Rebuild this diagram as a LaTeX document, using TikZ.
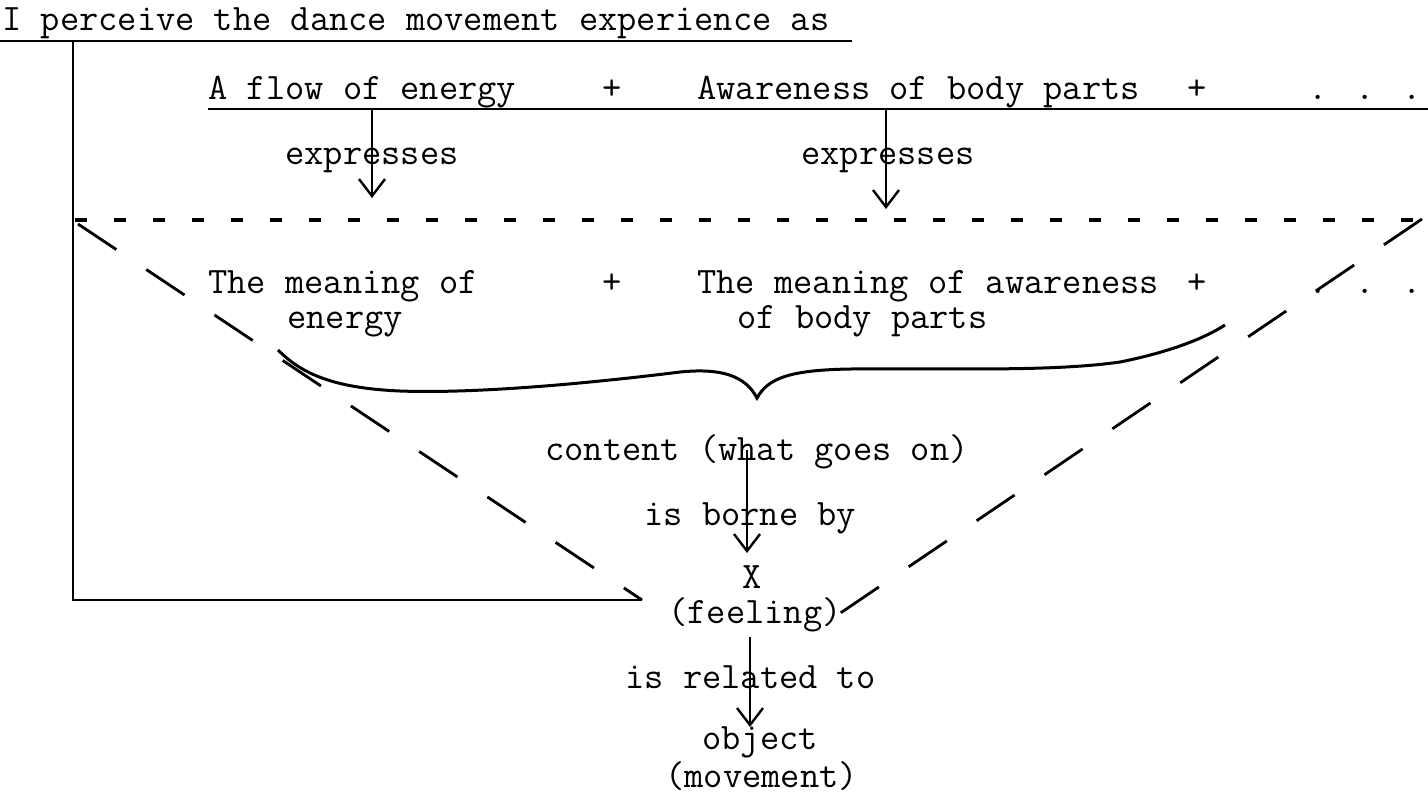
\documentclass[tikz,border=0pt]{standalone}
\usepackage{fontspec}
\usetikzlibrary{arrows.meta}
\begin{document}
\begin{tikzpicture}[x=0.5pt,y=-0.5pt,
  txt/.style={inner sep=0pt,font=\ttfamily\fontsize{18.67}{22}\selectfont,anchor=base west},
  txc/.style={inner sep=0pt,font=\ttfamily\fontsize{18.67}{22}\selectfont,anchor=base},
  rule/.style={line width=1.1pt},
  arr/.style={line width=1.1pt,-{Straight Barb[length=8.5pt,width=13pt,line width=1.2pt]}},
  dotline/.style={line width=1.8pt,dash pattern=on 6pt off 13.5pt},
  diag/.style={line width=1.4pt,dash pattern=on 23pt off 18pt},
  brace/.style={line width=1.5pt}]
\useasboundingbox (0,0) rectangle (1428,794);
% title
\node[txt] (title) at (2,30) {I perceive the dance movement experience as};
\coordinate (tl) at (0,41);
\coordinate (tr) at (852,41);
\draw[rule] (tl) -- (tr);
% frame
\coordinate (vtop) at (73,41);
\coordinate (vbot) at (73,600);
\coordinate (hend) at (642,600);
\draw[rule] (vtop) -- (vbot) -- (hend);
% row 2
\node[txt] (flow) at (208,99) {A flow of energy};
\node[txc] (p1) at (612,99) {+};
\node[txt] (aware) at (697,99) {Awareness of body parts};
\node[txc] (p2) at (1197,99) {+};
\node[txc] (d1) at (1365,99) {.\hspace{13.7pt}.\hspace{13.7pt}.};
\coordinate (ul) at (208,109);
\coordinate (ur) at (1428,109);
\draw[rule] (ul) -- (ur);
% expresses
\node[txc] (ex1) at (372,164) {expresses};
\node[txc] (ex2) at (888,164) {expresses};
\coordinate (a1s) at (372,109);
\coordinate (a1e) at (372,198);
\coordinate (a2s) at (886,109);
\coordinate (a2e) at (886,209);
\draw[arr] (a1s) -- (a1e);
\draw[arr] (a2s) -- (a2e);
% dashed horizontal
\coordinate (dl) at (75,220);
\coordinate (dr) at (1428,220);
\draw[dotline] (dl) -- (dr);
% diagonals
\coordinate (ldt) at (78,224);
\draw[diag] (ldt) -- (hend);
\coordinate (rdt) at (1422,219);
\coordinate (rdb) at (836,616);
\draw[diag] (rdt) -- (rdb);
% meaning row
\node[txt] (m1) at (208,293) {The meaning of};
\node[txt] (m1b) at (287,328) {energy};
\node[txc] (p3) at (612,293) {+};
\node[txt] (m2) at (697,293) {The meaning of awareness};
\node[txt] (m2b) at (737,328) {of body parts};
\node[txc] (p4) at (1197,293) {+};
\node[txc] (d2) at (1365,293) {.\hspace{13.7pt}.\hspace{13.7pt}.};
% brace
\coordinate (bs) at (278,350);
\coordinate (bt) at (757,398);
\coordinate (be) at (1225,325);
\draw[brace] (bs) .. controls (300,372) and (330,388) .. (400,391)
  .. controls (480,394) and (600,382) .. (680,372)
  .. controls (720,368) and (745,375) .. (bt)
  .. controls (768,378) and (790,370) .. (850,369)
  .. controls (950,368) and (1050,372) .. (1120,362)
  .. controls (1170,352) and (1205,338) .. (be);
% lower chain
\node[txt] (content) at (545,460) {content (what goes on)};
\node[txt] (borne) at (644,525) {is borne by};
\node[txc] (X) at (752,588) {X};
\node[txt] (feel) at (668,623) {(feeling)};
\node[txt] (rel) at (625,688) {is related to};
\node[txc] (obj) at (760,749) {object};
\node[txt] (mov) at (665,787) {(movement)};
\coordinate (a3s) at (747,450);
\coordinate (a3e) at (747,553);
\coordinate (a4s) at (750,637);
\coordinate (a4e) at (750,727);
\draw[arr] (a3s) -- (a3e);
\draw[arr] (a4s) -- (a4e);
\end{tikzpicture}
\end{document}
